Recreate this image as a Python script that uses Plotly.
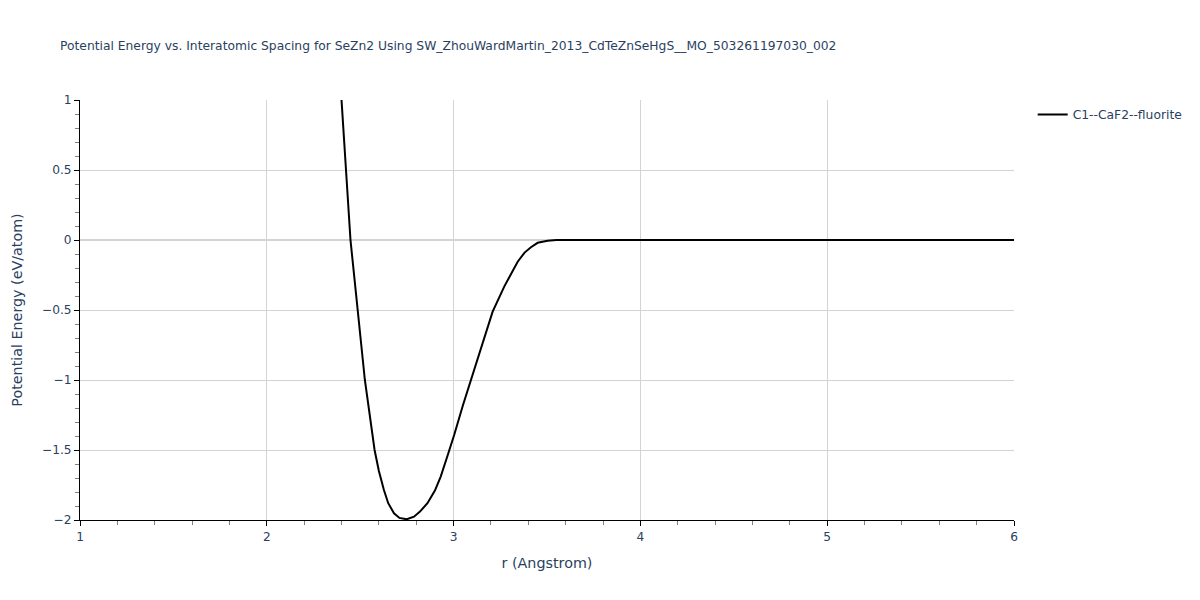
import plotly.graph_objects as go

r_values = [2.35, 2.400, 2.448, 2.488, 2.525, 2.577, 2.600, 2.627, 2.650, 2.681, 2.710,
            2.749, 2.788, 2.820, 2.860, 2.900, 2.931, 2.970, 3.003, 3.050, 3.092, 3.155,
            3.209, 3.271, 3.343, 3.380, 3.414, 3.450, 3.503, 3.550, 3.600, 4.0, 4.5,
            5.0, 5.5, 6.0]
energy_values = [2.2, 1.0, 0.0, -0.5, -1.0, -1.5, -1.65, -1.786, -1.88, -1.952, -1.985,
                 -1.995, -1.976, -1.94, -1.88, -1.79, -1.69, -1.53, -1.393, -1.18, -1.0, -0.738,
                 -0.512, -0.333, -0.155, -0.09, -0.052, -0.02, -0.005, 0.0, 0.0, 0.0, 0.0,
                 0.0, 0.0, 0.0]
series_name = "C1--CaF2--fluorite"
title_text = "Potential Energy vs. Interatomic Spacing for SeZn2 Using SW_ZhouWardMartin_2013_CdTeZnSeHgS__MO_503261197030_002"

fig = go.Figure()
fig.add_trace(go.Scatter(x=r_values, y=energy_values, mode="lines", name=series_name,
                         line=dict(color="black", width=2)))

fig.update_layout(
    template="plotly",
    width=1200, height=600,
    font=dict(family="DejaVu Sans", size=12.2),
    title=dict(text=title_text, font=dict(size=12.3)),
    legend=dict(font=dict(size=12.3)),
    plot_bgcolor="white",
    paper_bgcolor="white",
    showlegend=True,
    margin=dict(l=80, r=80, t=100, b=80),
)
fig.update_xaxes(
    title_text="r (Angstrom)", title_font=dict(size=14.3), range=[1, 6], dtick=1,
    showline=True, linecolor="black", linewidth=1,
    ticks="outside", ticklen=5, tickcolor="black",
    gridcolor="lightgrey", zeroline=False, automargin=False,
    minor=dict(dtick=0.2, ticks="outside", ticklen=4, tickcolor="grey", showgrid=False),
)
fig.update_yaxes(
    title_text="Potential Energy (eV/atom)", title_font=dict(size=14.3), range=[-2, 1], dtick=0.5,
    showline=True, linecolor="black", linewidth=1,
    ticks="outside", ticklen=5, tickcolor="black",
    gridcolor="lightgrey", zeroline=True, zerolinecolor="lightgrey", zerolinewidth=2,
    automargin=False,
    minor=dict(dtick=0.1, ticks="outside", ticklen=4, tickcolor="grey", showgrid=False),
)

fig.write_html("out.html", config={"displayModeBar": False},
               post_script="document.body.style.margin='0';document.body.style.padding='0';")
